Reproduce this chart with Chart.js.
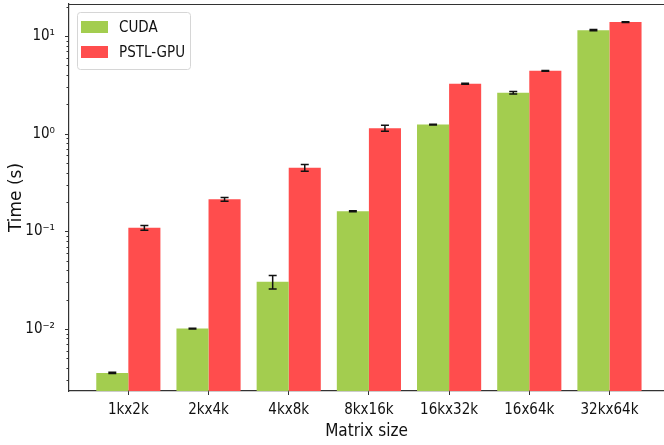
<!DOCTYPE html>
<html>
<head>
<meta charset="utf-8">
<script src="https://cdn.jsdelivr.net/npm/chart.js@4"></script>
<style>
  html, body { margin: 0; padding: 0; background: #fff; }
  #wrap { width: 664px; height: 445px; }
</style>
</head>
<body>
<div id="wrap"><canvas id="timeChart"></canvas></div>
<script>
const categories = ['1kx2k', '2kx4k', '4kx8k', '8kx16k', '16kx32k', '16x64k', '32kx64k'];
const cudaTime = [0.00355, 0.0101, 0.0305, 0.161, 1.24, 2.63, 11.5];
const cudaErr = [0.00005, 0.0001, 0.0048, 0.002, 0.01, 0.08, 0.15];
const pstlTime = [0.109, 0.213, 0.449, 1.14, 3.25, 4.41, 13.9];
const pstlErr = [0.006, 0.009, 0.035, 0.08, 0.04, 0.04, 0.15];
const yTickValues = [0.01, 0.1, 1, 10];
const yTickLabels = ['10⁻²', '10⁻¹', '10⁰', '10¹'];

const FONT = "'DejaVu Sans Condensed', 'DejaVu Sans', sans-serif";

// error bars, top spine, log minor ticks and legend box
const extras = {
  id: 'extras',
  afterDatasetsDraw(chart) {
    const ctx = chart.ctx;
    const y = chart.scales.y;
    const errs = [cudaErr, pstlErr];
    ctx.save();
    ctx.strokeStyle = '#111';
    ctx.lineWidth = 1.5;
    chart.data.datasets.forEach((ds, di) => {
      const meta = chart.getDatasetMeta(di);
      meta.data.forEach((bar, i) => {
        const v = ds.data[i].y;
        const e = errs[di][i];
        const y1 = y.getPixelForValue(v + e);
        const y2 = y.getPixelForValue(Math.max(v - e, 1e-6));
        ctx.beginPath();
        ctx.moveTo(bar.x, y1); ctx.lineTo(bar.x, y2);
        ctx.moveTo(bar.x - 4, y1); ctx.lineTo(bar.x + 4, y1);
        ctx.moveTo(bar.x - 4, y2); ctx.lineTo(bar.x + 4, y2);
        ctx.stroke();
      });
    });
    ctx.restore();
  },
  afterDraw(chart) {
    const ctx = chart.ctx;
    const y = chart.scales.y;
    const area = chart.chartArea;
    ctx.save();
    // top spine
    ctx.strokeStyle = '#333';
    ctx.lineWidth = 1.2;
    ctx.beginPath();
    ctx.moveTo(area.left, area.top + 0.5);
    ctx.lineTo(area.right, area.top + 0.5);
    ctx.stroke();
    // y ticks
    ctx.lineWidth = 1;
    for (let d = -3; d <= 1; d++) {
      for (let m = 1; m <= 9; m++) {
        const val = m * Math.pow(10, d);
        if (val < y.min || val > y.max) continue;
        const py = Math.round(y.getPixelForValue(val)) + 0.5;
        const len = m === 1 ? 4 : 2.5;
        ctx.beginPath();
        ctx.moveTo(area.left - len, py);
        ctx.lineTo(area.left, py);
        ctx.stroke();
      }
    }
    // legend
    const lx = 77, ly = 12, lw = 113, lh = 57;
    ctx.fillStyle = 'rgba(255,255,255,0.85)';
    ctx.strokeStyle = '#d6d6d6';
    ctx.beginPath();
    ctx.roundRect(lx + 0.5, ly + 0.5, lw, lh, 3);
    ctx.fill();
    ctx.stroke();
    ctx.font = '15px ' + FONT;
    ctx.textBaseline = 'middle';
    chart.data.datasets.forEach((ds, i) => {
      const cy = ly + 15 + i * 25;
      ctx.fillStyle = ds.backgroundColor;
      ctx.fillRect(lx + 4, cy - 6, 27, 12);
      ctx.fillStyle = '#111';
      ctx.fillText(ds.label, lx + 42, cy + 1);
    });
    ctx.restore();
  }
};

new Chart(document.getElementById('timeChart'), {
  type: 'bar',
  data: {
    datasets: [
      {
        label: 'CUDA',
        data: cudaTime.map((v, i) => ({ x: i, y: v })),
        backgroundColor: '#a3cd4f'
      },
      {
        label: 'PSTL-GPU',
        data: pstlTime.map((v, i) => ({ x: i, y: v })),
        backgroundColor: '#ff4d4d'
      }
    ]
  },
  options: {
    responsive: true,
    maintainAspectRatio: false,
    animation: false,
    layout: { padding: { left: 0, top: 4, right: 0, bottom: 0 } },
    datasets: { bar: { categoryPercentage: 0.8, barPercentage: 1.0 } },
    plugins: {
      legend: { display: false },
      tooltip: { enabled: false }
    },
    scales: {
      x: {
        type: 'linear',
        offset: false,
        min: -0.74,
        max: 6.68,
        afterBuildTicks: s => { s.ticks = categories.map((c, i) => ({ value: i })); },
        afterFit: s => { s.height = 54; s.paddingLeft = 0; s.paddingRight = 0; },
        grid: { offset: false, drawOnChartArea: false, drawTicks: true, tickLength: 4, color: '#333' },
        border: { display: true, color: '#333', width: 1.2 },
        ticks: {
          padding: 6,
          color: '#111',
          font: { family: FONT, size: 15 },
          callback: v => categories[v] ?? ''
        },
        title: {
          display: true,
          text: 'Matrix size',
          color: '#111',
          padding: { top: 0, bottom: 3 },
          font: { family: FONT, size: 17 }
        }
      },
      y: {
        type: 'logarithmic',
        min: 0.00232,
        max: 21.3,
        afterBuildTicks: s => { s.ticks = yTickValues.map(v => ({ value: v })); },
        afterFit: s => { s.width = 69; s.paddingTop = 0; s.paddingBottom = 0; },
        grid: { display: false },
        border: { display: true, color: '#333', width: 1.2 },
        ticks: {
          padding: 6,
          color: '#111',
          font: { family: FONT, size: 15 },
          callback: v => yTickLabels[yTickValues.indexOf(v)] ?? ''
        },
        title: {
          display: true,
          text: 'Time (s)',
          color: '#111',
          padding: { top: 6, bottom: 0 },
          font: { family: "'DejaVu Sans', sans-serif", size: 17 }
        }
      }
    }
  },
  plugins: [extras]
});
</script>
</body>
</html>
